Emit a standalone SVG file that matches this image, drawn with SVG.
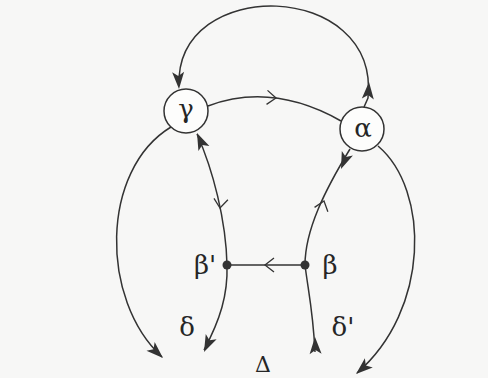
<svg xmlns="http://www.w3.org/2000/svg" width="488" height="378" viewBox="0 0 488 378">
<style>
.bg{fill:#f7f7f6}
.node{fill:#fdfdfc;stroke:#333;stroke-width:1.5}
.dot{fill:#333}
.edge{fill:none;stroke:#333;stroke-width:1.5}
.open{fill:none;stroke:#333;stroke-width:1.3}
.head{fill:#333}
.lbl{font-family:"DejaVu Serif",serif;font-size:26px;fill:#262626;text-anchor:middle}
</style>
<defs>
<path id="ah" d="M0,0 L-17,-6 L-13,0 L-17,6 Z"/>
<path id="chev" d="M-9,-7 L0,0 L-9,7"/>
</defs>
<rect class="bg" width="488" height="378"/>
<g id="connectors">
<path class="edge" d="M364,107 L368,98 C380,-20 175,-25 179,86"/>
<use href="#ah" class="head" transform="translate(369,82) rotate(-86)"/>
<use href="#ah" class="head" transform="translate(179,89) rotate(87)"/>
<path class="edge" d="M208,106 Q272,82 341,121"/>
<use href="#chev" class="open" transform="translate(276,98) rotate(4)"/>
<path class="edge" d="M171,127 C100,170 100,300 162,357"/>
<use href="#ah" class="head" transform="translate(163,358) rotate(43)"/>
<path class="edge" d="M378,146 C430,190 430,310 357,373"/>
<use href="#ah" class="head" transform="translate(356,374) rotate(139)"/>
<path class="edge" d="M227,265 C226,220 213,170 197,134"/>
<use href="#ah" class="head" transform="translate(197,133) rotate(-114)"/>
<use href="#chev" class="open" transform="translate(220,208) rotate(96)"/>
<path class="edge" d="M227,265 C228,295 220,320 204,350"/>
<use href="#ah" class="head" transform="translate(204,352) rotate(115)"/>
<path class="edge" d="M305,265 C305,230 325,190 350,149"/>
<use href="#ah" class="head" transform="translate(341,169) rotate(112)"/>
<use href="#chev" class="open" transform="translate(324,201) rotate(-72)"/>
<path class="edge" d="M305,265 C308,290 313,310 315,352"/>
<use href="#ah" class="head" transform="translate(315,337) rotate(-92)"/>
<path class="edge" d="M305,265 L227,265"/>
<use href="#chev" class="open" transform="translate(265,265) rotate(180)"/>
</g>
<g id="gamma"><circle class="node" cx="186" cy="111" r="22"/><text class="lbl" x="186" y="118">γ</text></g>
<g id="alpha"><circle class="node" cx="362" cy="129" r="22"/><text class="lbl" x="363" y="137">α</text></g>
<g id="beta-prime"><circle class="dot" cx="227" cy="265" r="4.5"/><text class="lbl" x="205" y="274">β'</text></g>
<g id="beta"><circle class="dot" cx="305" cy="265" r="4.5"/><text class="lbl" x="330" y="274">β</text></g>
<g id="delta"><text class="lbl" x="187" y="336">δ</text></g>
<g id="delta-prime"><text class="lbl" x="343" y="336">δ'</text></g>
<g id="Delta"><text class="lbl" x="263" y="372" style="font-size:22px">Δ</text></g>
</svg>
